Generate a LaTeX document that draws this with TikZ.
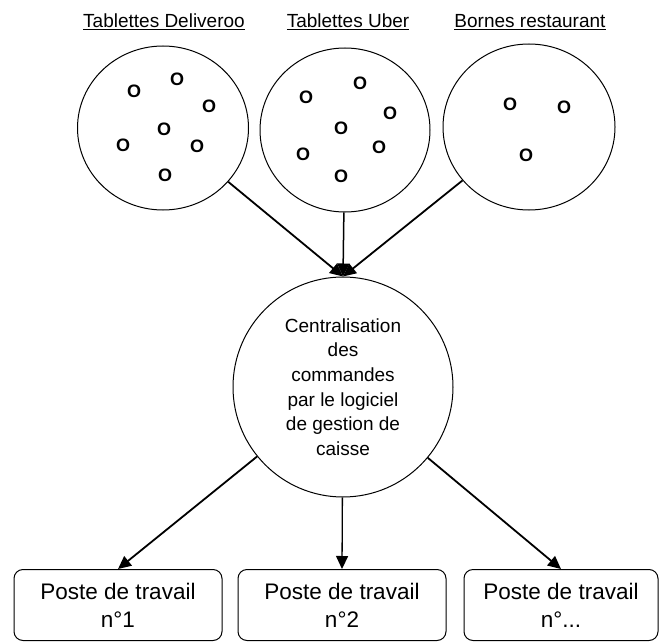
\documentclass[tikz,border=0pt]{standalone}
\usepackage{fontspec}
\setmainfont{Liberation Sans}
\usetikzlibrary{shapes.geometric,arrows.meta}
\newlength{\du}
\setlength{\du}{1pt}
\tikzset{
  bubble/.style={draw,ellipse,inner sep=0pt,line width=1\du},
  hub/.style={draw,circle,inner sep=0pt,minimum size=220\du,line width=1\du,align=center,font=\fontsize{19}{24.6}\selectfont},
  poste/.style={draw,rounded corners=9\du,minimum width=208\du,minimum height=71\du,line width=1\du,align=center,font=\fontsize{22.5}{28}\selectfont},
  lbl/.style={anchor=base,font=\fontsize{19}{23}\selectfont},
  dot/.style={inner sep=0pt,font=\fontsize{18}{18}\bfseries},
  flow/.style={line width=1.8\du,-{Triangle[length=13pt,width=12pt]}}
}

\begin{document}
\begin{tikzpicture}
\pgftransformxscale{1.000000}
\pgftransformyscale{-1.000000}
\definecolor{dialinecolor}{rgb}{0.000000, 0.000000, 0.000000}
\pgfsetstrokecolor{dialinecolor}
\useasboundingbox (0\du,0\du) rectangle (661\du,642\du);
% setfont left to latex
\node[lbl] (tdlv) at (164\du,28\du){\underline{Tablettes Deliveroo}};
\node[lbl] (tubr) at (348\du,28\du){\underline{Tablettes Uber}};
\node[lbl] (tbrn) at (530\du,28\du){\underline{Bornes restaurant}};
\node[bubble,minimum width=171\du,minimum height=164\du] (dlv) at (163\du,128\du){};
\node[bubble,minimum width=170\du,minimum height=164\du] (ubr) at (345\du,130\du){};
\node[bubble,minimum width=172\du,minimum height=166\du] (brn) at (529\du,127\du){};
% was here!!!
\foreach \x/\y [count=\i] in {134/91,177/79,209/106,164/129,123/145,197/146,165/175}
  {\node[dot] (odlv\i) at (\x\du,\y\du){O};}
\foreach \x/\y [count=\i] in {306/97,360/83,390/113,341/128,303/154,379/147,341/176}
  {\node[dot] (oubr\i) at (\x\du,\y\du){O};}
\foreach \x/\y [count=\i] in {510/104,564/107,526/155}
  {\node[dot] (obrn\i) at (\x\du,\y\du){O};}
\node[hub] (ctr) at (343\du,387\du){Centralisation\\des\\commandes\\par le logiciel\\de gestion de\\caisse};
\node[poste] (p1) at (118\du,605\du){Poste de travail\\n°1};
\node[poste] (p2) at (342\du,605\du){Poste de travail\\n°2};
\node[poste,minimum width=194\du] (p3) at (561\du,605\du){Poste de travail\\n°...};
\draw[flow] (dlv) -- (ctr.north);
\draw[flow,line width=1.5\du] (ubr) -- (ctr.north);
\draw[flow] (brn) -- (ctr.north);
\draw[flow] (ctr) -- (p1.north);
\draw[flow,line width=1.3\du] (ctr) -- (p2.north);
\draw[flow] (ctr) -- (p3.north);
\end{tikzpicture}
\end{document}
